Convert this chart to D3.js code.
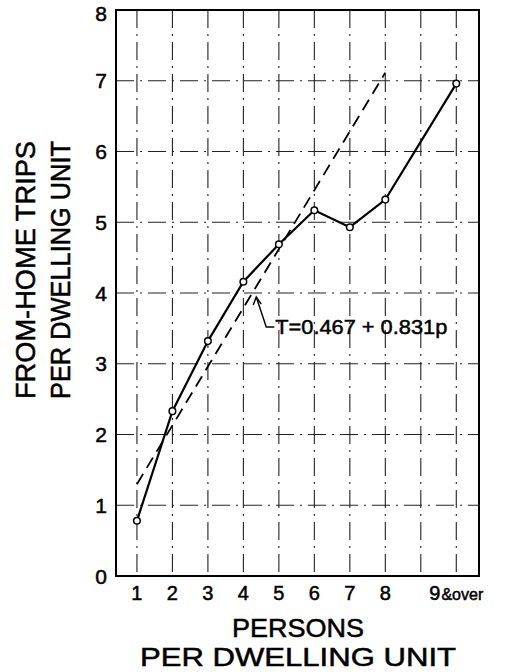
<!DOCTYPE html>
<html>
<head>
<meta charset="utf-8">
<script src="https://cdn.jsdelivr.net/npm/d3@7"></script>
<style>
  html, body { margin: 0; padding: 0; background: #fff; }
  svg { display: block; }
  text { font-family: "Liberation Sans", "DejaVu Sans", sans-serif; fill: #000; stroke: #000; stroke-width: 0.5; }
</style>
</head>
<body>
<script>
// ---- data ----
const personPositions = [1, 2, 3, 4, 5, 6, 7, 8, 10];
const personLabels = ["1", "2", "3", "4", "5", "6", "7", "8", "9&over"];
const trips = [0.78, 2.33, 3.32, 4.16, 4.69, 5.17, 4.93, 5.32, 6.96];
const fitRange = [1, 8];
const fitCoef = [0.467, 0.831];           // T = a + b p
const yTicks = [0, 1, 2, 3, 4, 5, 6, 7, 8];
const yTickLabels = ["0", "1", "2", "3", "4", "5", "6", "7", "8"];
const gridX = [1, 2, 3, 4, 5, 6, 7, 8, 9, 10];
const gridY = [1, 2, 3, 4, 5, 6, 7];
const fitLabel = "T=0.467 + 0.831p";

const W = 505, H = 672;
const svg = d3.select("body").append("svg").attr("width", W).attr("height", H);

const x = d3.scaleLinear().domain([0.41, 10.64]).range([116, 479]);
const y = d3.scaleLinear().domain([0, 8]).range([576, 10]);

// grid
const grid = svg.append("g");
grid.selectAll("line.gx").data(gridX).join("line")
  .attr("x1", d => x(d)).attr("x2", d => x(d))
  .attr("y1", y(8)).attr("y2", y(0))
  .attr("stroke", "#222").attr("stroke-width", 1.1)
  .attr("stroke-dasharray", "18,6,2,6");
grid.selectAll("line.gy").data(gridY).join("line")
  .attr("y1", d => y(d)).attr("y2", d => y(d))
  .attr("x1", x.range()[0]).attr("x2", x.range()[1])
  .attr("stroke", "#222").attr("stroke-width", 1.1)
  .attr("stroke-dasharray", "18,6,2,6");

// frame
svg.append("rect")
  .attr("x", x.range()[0]).attr("y", y(8))
  .attr("width", x.range()[1] - x.range()[0]).attr("height", y(0) - y(8))
  .attr("fill", "none").attr("stroke", "#000").attr("stroke-width", 2);

// y tick labels
svg.append("g").selectAll("text").data(yTicks).join("text")
  .attr("x", 107).attr("y", d => Math.max(y(d), 13))
  .attr("dy", "0.36em")
  .attr("text-anchor", "end")
  .attr("font-size", 21)
  .text((d, i) => yTickLabels[i]);

// x tick labels
const xl = svg.append("g");
personPositions.forEach((p, i) => {
  const lab = personLabels[i];
  if (lab.length === 1) {
    xl.append("text").attr("x", x(p)).attr("y", 600)
      .attr("text-anchor", "middle").attr("font-size", 20).text(lab);
  } else {
    const t = xl.append("text").attr("x", x(p) - 27).attr("y", 600)
      .attr("font-size", 20);
    t.append("tspan").text(lab.slice(0, 1));
    t.append("tspan").attr("font-size", 16).attr("dx", 1).text(lab.slice(1));
  }
});

// axis titles
svg.append("text").attr("x", 298).attr("y", 637).attr("text-anchor", "middle")
  .attr("font-size", 25).attr("textLength", 132).attr("lengthAdjust", "spacingAndGlyphs")
  .text("PERSONS");
svg.append("text").attr("x", 298).attr("y", 666).attr("text-anchor", "middle")
  .attr("font-size", 25).attr("textLength", 316).attr("lengthAdjust", "spacingAndGlyphs")
  .text("PER DWELLING UNIT");

const yt = svg.append("g").attr("transform", "translate(35,270) rotate(-90)");
yt.append("text").attr("x", 0).attr("y", 0).attr("text-anchor", "middle")
  .attr("font-size", 27).attr("textLength", 258).attr("lengthAdjust", "spacingAndGlyphs")
  .text("FROM-HOME TRIPS");
yt.append("text").attr("x", 0).attr("y", 35).attr("text-anchor", "middle")
  .attr("font-size", 27).attr("textLength", 258).attr("lengthAdjust", "spacingAndGlyphs")
  .text("PER DWELLING UNIT");

// fitted line
const fitData = fitRange.map(p => [p, fitCoef[0] + fitCoef[1] * p]);
svg.append("path")
  .attr("d", d3.line().x(d => x(d[0])).y(d => y(d[1]))(fitData))
  .attr("fill", "none").attr("stroke", "#000").attr("stroke-width", 1.8)
  .attr("stroke-dasharray", "12,7");

// observed line
const obs = personPositions.map((p, i) => [p, trips[i]]);
svg.append("path")
  .attr("d", d3.line().x(d => x(d[0])).y(d => y(d[1]))(obs))
  .attr("fill", "none").attr("stroke", "#000").attr("stroke-width", 2.2);
svg.append("g").selectAll("circle").data(obs).join("circle")
  .attr("cx", d => x(d[0])).attr("cy", d => y(d[1])).attr("r", 3.3)
  .attr("fill", "#fff").attr("stroke", "#000").attr("stroke-width", 1.5);

// annotation with leader
const pA = 4.25;
const ax = x(pA) + 4, ay = y(fitCoef[0] + fitCoef[1] * pA) + 4;
const lx = ax + 10, ly = 327;
svg.append("path")
  .attr("d", `M${ax},${ay} L${lx},${ly} L${lx + 8},${ly}`)
  .attr("fill", "none").attr("stroke", "#000").attr("stroke-width", 1.4);
svg.append("path")
  .attr("d", `M${ax - 3},${ay + 8} L${ax},${ay} L${ax + 5},${ay + 7}`)
  .attr("fill", "none").attr("stroke", "#000").attr("stroke-width", 1.4);
svg.append("text").attr("x", lx + 9).attr("y", 334)
  .attr("font-size", 21).attr("textLength", 172).attr("lengthAdjust", "spacingAndGlyphs")
  .text(fitLabel);
</script>
</body>
</html>
